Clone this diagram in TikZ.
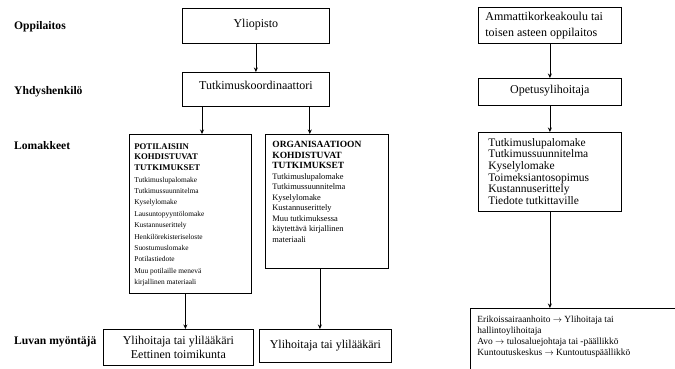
\documentclass[tikz,border=0pt]{standalone}
\usepackage{fontspec}
\setmainfont{Liberation Serif}
\usetikzlibrary{arrows.meta}
\newcommand{\topf}{\fontsize{12}{16}\selectfont}
\newcommand{\lblf}{\bfseries\fontsize{11.6}{13}\selectfont}
\begin{document}
\begin{tikzpicture}[x=1pt,y=-1pt,
  box/.style={draw, line width=0.8pt, inner sep=0pt, anchor=north west, align=center, font=\topf},
  lbl/.style={anchor=west, inner sep=0pt, font=\lblf},
  arr/.style={line width=0.8pt, -{Stealth[length=4.5pt,width=4pt]}},
  ln/.style={line width=0.8pt}]
\useasboundingbox (0,0) rectangle (675,369);
% row labels
\node[lbl] (l1) at (14,27) {Oppilaitos};
\node[lbl] (l2) at (14,92) {Yhdyshenkilö};
\node[lbl] (l3) at (14,146) {Lomakkeet};
\node[lbl] (l4) at (14,342) {Luvan myöntäjä};
% left column
\node[box, minimum width=147pt, minimum height=35pt, text depth=5pt] (yo) at (182,8) {Yliopisto};
\node[box, minimum width=147pt, minimum height=34pt, text depth=9pt] (tk) at (182,72) {Tutkimuskoordinaattori};
\node[box] (lf) at (129,134) {\parbox[c][159pt][t]{122pt}{\vspace*{9pt}\raggedright\leftskip=5pt
  {\bfseries\fontsize{8.7}{10.8}\selectfont POTILAISIIN\\ KOHDISTUVAT\\ TUTKIMUKSET\\}
  {\fontsize{7.4}{11.4}\selectfont Tutkimuslupalomake\\ Tutkimussuunnitelma\\ Kyselylomake\\ Lausuntopyyntölomake\\ Kustannuserittely\\ Henkilörekisteriseloste\\ Suostumuslomake\\ Potilastiedote\\ Muu potilaille menevä\\ kirjallinen materiaali\par}}};
\node[box] (of) at (265,134) {\parbox[c][134pt][t]{123pt}{\vspace*{7pt}\raggedright\leftskip=7pt
  {\bfseries\fontsize{9.5}{10.5}\selectfont ORGANISAATIOON\\ KOHDISTUVAT\\ TUTKIMUKSET\\}
  {\fontsize{8.4}{10.5}\selectfont Tutkimuslupalomake\\ Tutkimussuunnitelma\\ Kyselylomake\\ Kustannuserittely\\ Muu tutkimuksessa\\ käytettävä kirjallinen\\ materiaali\par}}};
\node[box, minimum width=150pt, minimum height=36pt, font=\fontsize{12}{14.5}\selectfont] (bl) at (103,329) {Ylihoitaja tai ylilääkäri\\Eettinen toimikunta};
\node[box, minimum width=132pt, minimum height=33pt] (br) at (259,329) {Ylihoitaja tai ylilääkäri};
% right column
\node[box, minimum width=143pt, minimum height=36pt] (amk) at (478,7) {\parbox{143pt}{\raggedright\leftskip=7pt Ammattikorkeakoulu tai\\toisen asteen oppilaitos}};
\node[box, minimum width=143pt, minimum height=27pt, text depth=6pt] (opy) at (478,78) {Opetusylihoitaja};
\node[box] (rl) at (478,132) {\parbox[c][79pt][t]{143pt}{\vspace*{6pt}\raggedright\leftskip=10pt
  \fontsize{11.5}{11.6}\selectfont Tutkimuslupalomake\\ Tutkimussuunnitelma\\ Kyselylomake\\ Toimeksiantosopimus\\ Kustannuserittely\\ Tiedote tutkittaville\par}};
\node[box] (rb) at (470,308) {\parbox[c][70pt][t]{210pt}{\vspace*{8pt}\raggedright\leftskip=7pt
  \fontsize{9.4}{11}\selectfont Erikoissairaanhoito $\rightarrow$ Ylihoitaja tai\\ hallintoylihoitaja\\ Avo $\rightarrow$ tulosaluejohtaja tai -päällikkö\\ Kuntoutuskeskus $\rightarrow$ Kuntoutuspäällikkö\par}};
% connectors
\draw[arr] (yo.south) -- (tk.north);
\draw[arr] ([xshift=20pt]tk.south west) -- ([xshift=20pt]tk.south west |- lf.north);
\draw[arr] ([xshift=-20pt]tk.south east) -- ([xshift=-20pt]tk.south east |- of.north);
\draw[arr] ([xshift=-5pt]lf.south) -- ([xshift=-5pt]lf.south |- bl.north);
\draw[arr] ([xshift=-7pt]of.south) -- ([xshift=-7pt]of.south |- br.north);
\draw[arr] (amk.south) -- (opy.north);
\draw[arr] (opy.south) -- (rl.north);
\draw[arr] (rl.south) -- (rl.south |- rb.north);
\end{tikzpicture}
\end{document}
